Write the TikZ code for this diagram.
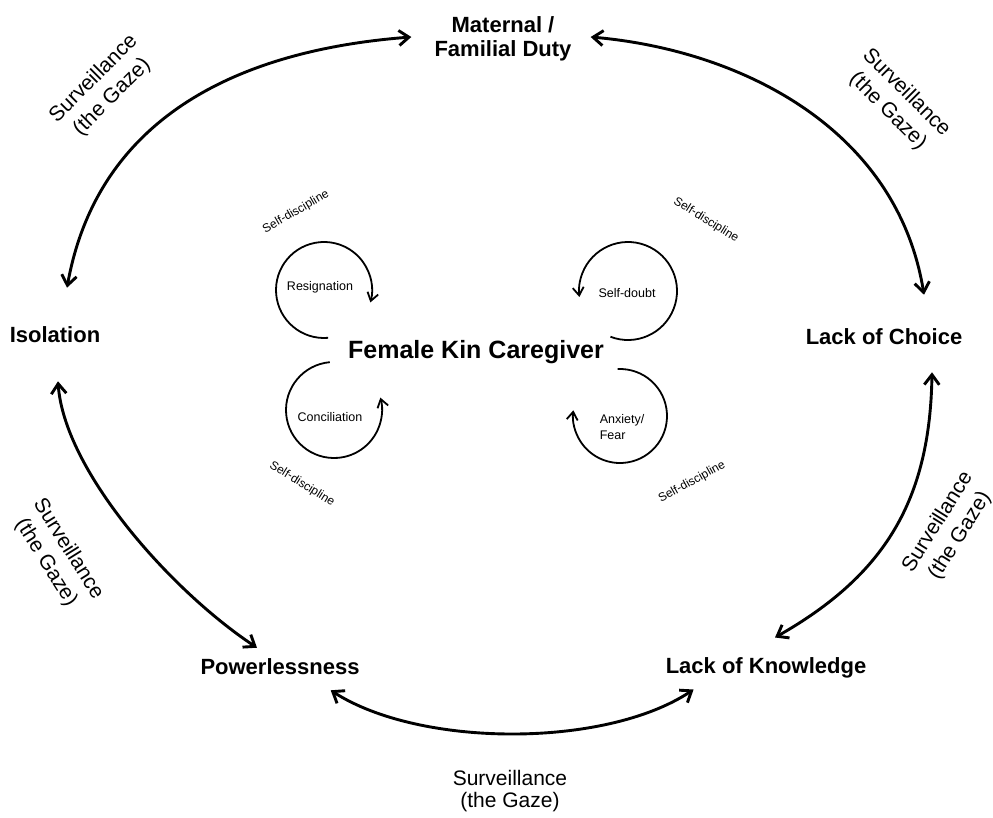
\documentclass[tikz,border=0pt]{standalone}
\usepackage{fontspec}
\setmainfont{Liberation Sans}
\usetikzlibrary{arrows.meta}
\begin{document}
\begin{tikzpicture}[x=1pt,y=-1pt,
  conc/.style={font=\fontsize{22}{24}\selectfont\bfseries, align=center, inner sep=1pt},
  gaze/.style={font=\fontsize{21}{26}\selectfont, align=center, inner sep=1pt},
  lbl/.style={font=\fontsize{12.5}{16}\selectfont, inner sep=1pt},
  sdlab/.style={font=\fontsize{12}{14}\selectfont, inner sep=0pt},
  bigarrow/.style={line width=2.9pt, {Straight Barb[length=10pt,width=15pt]}-{Straight Barb[length=10pt,width=15pt]}},
  cyc/.style={line width=1.8pt, -{Straight Barb[length=8pt,width=11pt]}}
]
\useasboundingbox (0,0) rectangle (993,817);

% main concepts
\node[conc] (mat) at (503,39) {Maternal /\\Familial Duty};
\node[conc] (iso) at (55,335) {Isolation};
\node[conc] (loc) at (884,337) {Lack of Choice};
\node[conc] (pow) at (280,667) {Powerlessness};
\node[conc] (lok) at (766,668) {Lack of Knowledge};
\node[font=\fontsize{25}{28}\selectfont\bfseries, inner sep=1pt] (fkc) at (476,352) {Female Kin Caregiver};

% surveillance labels
\node[gaze, rotate=45] (g1) at (103,88) {Surveillance\\(the Gaze)};
\node[gaze, rotate=-45] (g2) at (897,102) {Surveillance\\(the Gaze)};
\node[gaze, rotate=-58] (g3) at (57,556) {Surveillance\\(the Gaze)};
\node[gaze, rotate=58] (g4) at (949,529) {Surveillance\\(the Gaze)};
\node[gaze, font=\fontsize{21}{22}\selectfont] (g5) at (510,791) {Surveillance\\(the Gaze)};

% big surveillance arcs
\draw[bigarrow] ([shift={(-22,-2)}]mat.west) .. controls (242,50) and (98,115) .. ([shift={(12,-38)}]iso.north);
\draw[bigarrow] ([shift={(18,-2)}]mat.east) .. controls (740,50) and (897,128) .. ([shift={(40,-33)}]loc.north);
\draw[bigarrow] ([shift={(3,37)}]iso.south) .. controls (64,470) and (170,590) .. ([shift={(-23,-10)}]pow.north);
\draw[bigarrow] ([shift={(48,26)}]loc.south) .. controls (930,500) and (885,575) .. ([shift={(9,-19)}]lok.north);
\draw[bigarrow] ([shift={(-30,14)}]pow.south east) .. controls (420,748) and (606,748) .. ([shift={(29,10)}]lok.south west);

% inner loops
\node[lbl] (res) at (320,287) {Resignation};
\node[lbl] (sdb) at (627,293) {Self-doubt};
\node[lbl] (con) at (330,417) {Conciliation};
\node[lbl, align=left] (anx) at (622,427) {Anxiety/\\Fear};

\draw[cyc] (324,290) ++(85:48) arc[start angle=85, end angle=375, radius=48];
\draw[cyc] (628,291) ++(111:49) arc[start angle=111, end angle=-187, radius=49];
\draw[cyc] (334,410) ++(-95:48) arc[start angle=-95, end angle=-375, radius=48];
\draw[cyc] (620,416) ++(-93:47) arc[start angle=-93, end angle=187, radius=47];

% self-discipline labels
\node[sdlab, rotate=30] (d1) at (296,212) {Self-discipline};
\node[sdlab, rotate=-32] (d2) at (706,220) {Self-discipline};
\node[sdlab, rotate=-32] (d3) at (302,484) {Self-discipline};
\node[sdlab, rotate=29] (d4) at (692,482) {Self-discipline};
\end{tikzpicture}
\end{document}
